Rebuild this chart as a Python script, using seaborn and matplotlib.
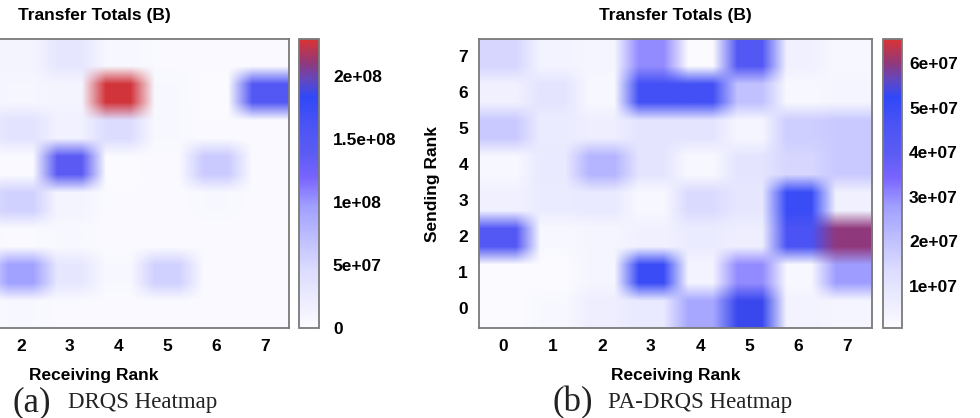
import numpy as np
import pandas as pd
import matplotlib
matplotlib.use("Agg")
import matplotlib.pyplot as plt
from matplotlib.colors import LinearSegmentedColormap
import seaborn as sns

# ---------------- data ----------------
receiving_ranks = [0, 1, 2, 3, 4, 5, 6, 7]
sending_ranks = [7, 6, 5, 4, 3, 2, 1, 0]          # top row first

# DRQS transfer totals (bytes); rows = sending rank 7..0, cols = receiving rank 0..7
drqs_r7 = [5e6, 8e6, 10e6, 30e6, 6e6, 3e6, 2e6, 2e6]
drqs_r6 = [6e6, 10e6, 8e6, 10e6, 227e6, 5e6, 1e6, 150e6]
drqs_r5 = [12e6, 20e6, 35e6, 15e6, 45e6, 5e6, 2e6, 2e6]
drqs_r4 = [8e6, 3e6, 2e6, 138e6, 1e6, 3e6, 60e6, 2e6]
drqs_r3 = [15e6, 45e6, 55e6, 10e6, 2e6, 2e6, 5e6, 2e6]
drqs_r2 = [20e6, 6e6, 3e6, 5e6, 2e6, 2e6, 2e6, 2e6]
drqs_r1 = [10e6, 30e6, 95e6, 30e6, 5e6, 55e6, 3e6, 2e6]
drqs_r0 = [4e6, 3e6, 5e6, 3e6, 2e6, 2e6, 2e6, 2e6]

# PA-DRQS transfer totals (bytes)
pa_r7 = [15e6, 4e6, 3e6, 30e6, 1e6, 43e6, 5e6, 2e6]
pa_r6 = [5e6, 10e6, 2e6, 48e6, 48e6, 20e6, 2e6, 3e6]
pa_r5 = [18e6, 7e6, 6e6, 10e6, 10e6, 3e6, 17e6, 18e6]
pa_r4 = [2e6, 8e6, 23e6, 10e6, 2e6, 10e6, 15e6, 18e6]
pa_r3 = [5e6, 7e6, 8e6, 2e6, 14e6, 9e6, 50e6, 5e6]
pa_r2 = [43e6, 2e6, 3e6, 5e6, 7e6, 6e6, 46e6, 60e6]
pa_r1 = [1e6, 1e6, 3e6, 50e6, 4e6, 30e6, 2e6, 28e6]
pa_r0 = [0.6e6, 2e6, 6e6, 8e6, 26e6, 53e6, 4e6, 3e6]

drqs_ticks = [0, 5e7, 1e8, 1.5e8, 2e8]
drqs_ticklabels = ["0", "5e+07", "1e+08", "1.5e+08", "2e+08"]
pa_ticks = [1e7, 2e7, 3e7, 4e7, 5e7, 6e7]
pa_ticklabels = ["1e+07", "2e+07", "3e+07", "4e+07", "5e+07", "6e+07"]

df_drqs = pd.DataFrame([drqs_r7, drqs_r6, drqs_r5, drqs_r4, drqs_r3, drqs_r2, drqs_r1, drqs_r0],
                       index=sending_ranks, columns=receiving_ranks)
df_pa = pd.DataFrame([pa_r7, pa_r6, pa_r5, pa_r4, pa_r3, pa_r2, pa_r1, pa_r0],
                     index=sending_ranks, columns=receiving_ranks)

# ---------------- style ----------------
cmap = LinearSegmentedColormap.from_list("wbr", [
    (0.00, "#fbfbff"), (0.20, "#dcdcff"), (0.42, "#a0a0ff"), (0.52, "#7a64ff"),
    (0.60, "#5c5cf4"), (0.70, "#4c54f4"), (0.80, "#3048f8"), (0.86, "#6248c0"),
    (0.92, "#92387a"), (1.00, "#d83434")])

W, H = 980, 418
fig = plt.figure(figsize=(W / 100, H / 100), dpi=100)

def rect(x0, y0, x1, y1):
    return [x0 / W, 1 - y1 / H, (x1 - x0) / W, (y1 - y0) / H]

SANS = "Liberation Sans"
SERIF = "Liberation Serif"
FS = 12.5

def panel(ax, cax, df, vmin, vmax, ticks, ticklabels, cb_pad):
    sns.heatmap(df, ax=ax, cbar_ax=cax, cmap=cmap, vmin=vmin, vmax=vmax,
                cbar_kws={"ticks": ticks})
    # soft cell edges like the original interpolated rendering
    arr = df.to_numpy()
    ax.imshow(np.kron(arr, np.ones((2, 2))), cmap=cmap, vmin=vmin, vmax=vmax,
              interpolation="bilinear", interpolation_stage="rgba",
              extent=(0, 8, 8, 0), origin="upper", aspect="auto", zorder=2)
    ax.set_xlim(0, 8)
    ax.set_ylim(8, 0)
    for s in ax.spines.values():
        s.set_visible(True)
        s.set_edgecolor("#7a7a7a")
        s.set_linewidth(1.3)
        s.set_zorder(5)
    ax.tick_params(length=0, pad=8)
    ax.set_xticklabels(df.columns, fontfamily=SANS, fontweight="bold", fontsize=FS, rotation=0)
    ax.set_yticklabels(df.index, fontfamily=SANS, fontweight="bold", fontsize=FS, rotation=0)
    ax.set_xlabel("Receiving Rank", fontfamily=SANS, fontweight="bold", fontsize=FS, labelpad=10)
    ax.set_ylabel("Sending Rank", fontfamily=SANS, fontweight="bold", fontsize=FS, labelpad=13)
    ax.set_title("Transfer Totals (B)", fontfamily=SANS, fontweight="bold", fontsize=FS, pad=14)
    cb = ax.collections[0].colorbar
    cb.outline.set_edgecolor("#7a7a7a")
    cb.outline.set_linewidth(1.3)
    cax.tick_params(length=0, pad=cb_pad)
    cax.set_yticks(ticks)
    cax.set_yticklabels(ticklabels, fontfamily=SANS, fontweight="bold", fontsize=FS)

axL = fig.add_axes(rect(-101, 39, 289, 328))
caxL = fig.add_axes(rect(299, 39, 319, 328))
axR = fig.add_axes(rect(479, 39, 872, 328))
caxR = fig.add_axes(rect(883, 39, 902, 328))

panel(axL, caxL, df_drqs, 0, 2.29e8, drqs_ticks, drqs_ticklabels, 10)
panel(axR, caxR, df_pa, 0.6e6, 6.54e7, pa_ticks, pa_ticklabels, 5)

# captions
fig.text(12 / W, 1 - 411 / H, "(a)", fontfamily=SERIF, fontsize=25, color="#222222", va="baseline")
fig.text(68 / W, 1 - 408 / H, "DRQS Heatmap", fontfamily=SERIF, fontsize=16.5, color="#222222", va="baseline")
fig.text(552 / W, 1 - 411 / H, "(b)", fontfamily=SERIF, fontsize=25, color="#222222", va="baseline")
fig.text(608 / W, 1 - 408 / H, "PA-DRQS Heatmap", fontfamily=SERIF, fontsize=16.5, color="#222222", va="baseline")

fig.savefig("out.png", dpi=100)
